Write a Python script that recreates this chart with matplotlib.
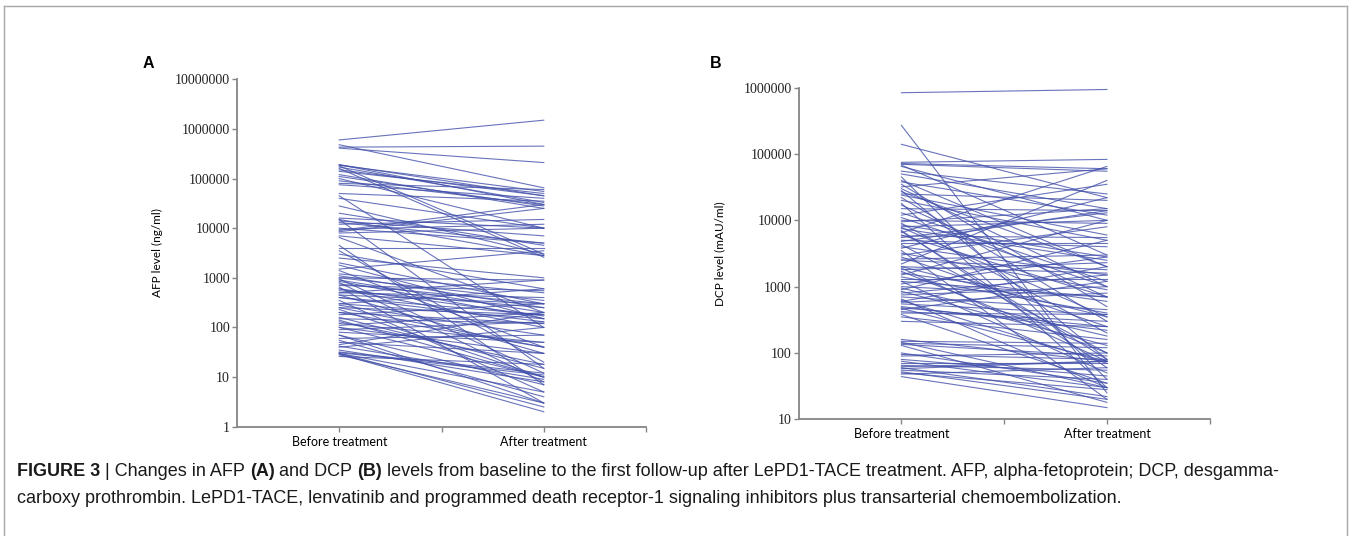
import numpy as np
import matplotlib
matplotlib.use("Agg")
import matplotlib.pyplot as plt
from matplotlib.lines import Line2D
from matplotlib.ticker import FixedLocator, FuncFormatter

# AFP (ng/ml), before / after treatment, one pair per patient
afp_before = [6.0e5, 4.8e5, 4.3e5, 4.1e5, 1.9e5, 1.8e5, 1.7e5, 1.6e5, 1.4e5, 1.2e5,
              1.0e5, 9.0e4, 7.5e4, 5.0e4, 4.5e4, 2.8e4, 1.6e4, 1.5e4, 1.4e4, 1.2e4,
              1.0e4, 9.0e3, 8.0e3, 7.0e3, 6.5e3, 4.5e3, 4.0e3, 3.5e3, 3.0e3, 2.5e3,
              2.0e3, 1.8e3, 1.5e3, 1.4e3, 1.0e3, 950, 900, 800, 750, 700,
              650, 600, 550, 500, 450, 400, 350, 300, 280, 250,
              230, 200, 180, 150, 130, 120, 110, 100, 90, 70,
              60, 50, 45, 40, 35, 32, 30, 29, 28, 26,
              1.9e5, 1.85e5, 1.5e5, 1.1e5, 8.0e4, 4.0e4, 2.0e4, 1.5e4, 1.3e4, 9.5e3,
              8.5e3, 1.2e3, 1.1e3, 1.0e3, 850, 600, 500, 450, 400, 300,
              250, 200, 160, 140, 100, 80, 70, 55, 42, 31, 30]
afp_after = [1.5e6, 6.5e4, 4.5e5, 2.1e5, 4.5e4, 3.0e3, 3.3e4, 2.6e3, 5.0e4, 2.5e4,
             1.0e4, 3.0e4, 4.0e4, 3.5e4, 100, 3.0e3, 1.0e4, 15, 7.0e3, 1.5e4,
             5.0e3, 3.0e4, 1.0e4, 2.8e3, 200, 7, 4.0e3, 20, 600, 1.0e3,
             300, 150, 3.5e3, 40, 900, 12, 200, 8, 300, 550,
             3, 100, 250, 400, 30, 180, 5, 150, 70, 180,
             10, 40, 300, 120, 18, 50, 200, 10, 130, 3,
             70, 30, 200, 100, 8, 12, 5, 2, 3, 18,
             3.0e4, 5.5e4, 4.5e4, 2.8e4, 6.0e4, 1.0e4, 4.5e3, 2.8e3, 5.0e3, 1.2e4,
             2.5e4, 500, 250, 350, 150, 170, 900, 300, 130, 600,
             40, 120, 15, 10, 30, 50, 7, 4, 9, 11, 2.5]

# DCP (mAU/ml), before / after treatment
dcp_before = [8.4e5, 2.7e5, 1.4e5, 7.5e4, 7.2e4, 7.0e4, 6.8e4, 6.5e4, 5.0e4, 4.5e4,
              4.0e4, 3.5e4, 3.2e4, 3.0e4, 2.8e4, 2.5e4, 2.2e4, 2.0e4, 1.8e4, 1.5e4,
              1.3e4, 1.2e4, 1.0e4, 9.0e3, 8.0e3, 7.5e3, 7.0e3, 6.5e3, 6.0e3, 5.5e3,
              5.0e3, 4.5e3, 4.3e3, 4.0e3, 3.8e3, 3.5e3, 3.2e3, 3.0e3, 2.8e3, 2.5e3,
              2.2e3, 2.0e3, 2.0e3, 1.9e3, 1.8e3, 1.6e3, 1.5e3, 1.4e3, 1.3e3, 1.2e3,
              1.1e3, 1.0e3, 950, 900, 850, 800, 700, 650, 600, 580,
              550, 500, 470, 450, 420, 400, 380, 300, 160, 150,
              140, 135, 130, 95, 90, 80, 75, 70, 65, 60,
              58, 55, 50, 48, 44,
              5.5e4, 3.8e4, 2.7e4, 2.4e4, 1.7e4, 1.1e4, 9.5e3, 8.5e3, 7.8e3, 6.8e3,
              5.8e3, 4.8e3, 2.6e3, 1.7e3, 1.2e3, 750, 620, 480, 350, 145,
              100, 62, 52]
dcp_after = [9.4e5, 25, 2.2e4, 8.3e4, 6.0e4, 5.5e4, 3.0e3, 1.0e4, 1.5e4, 40,
             2.0e3, 500, 6.0e4, 1.0e3, 80, 2.0e4, 300, 5.0e3, 30, 1.4e4,
             1.2e3, 3.5e4, 9.0e3, 200, 1.0e4, 2.5e3, 60, 6.5e4, 700, 1.3e4,
             4.0e3, 4.5e3, 100, 1.5e3, 2.2e4, 20, 900, 8.0e3, 250, 1.8e3,
             4.0e4, 350, 1.6e3, 75, 2.3e3, 600, 1.0e4, 400, 1.3e3, 50,
             2.8e3, 700, 180, 5.0e3, 130, 1.5e3, 450, 30, 2.0e3, 800,
             380, 220, 75, 1.2e3, 300, 380, 35, 250, 75, 140,
             120, 90, 18, 80, 100, 45, 30, 70, 55, 22,
             75, 40, 28, 60, 15,
             2.5e4, 1.2e4, 2.0e3, 6.0e3, 700, 1.0e3, 1.5e4, 2.8e3, 350, 80,
             5.5e3, 1.4e4, 3.0e3, 100, 700, 1.0e3, 70, 250, 160, 30,
             35, 75, 20]

groups = ["Before treatment", "After treatment"]

line_color = "#4250aa"
axis_color = "#858585"
tick_font = "Liberation Serif"
label_font = "Lato"

fig = plt.figure(figsize=(13.52, 5.36), dpi=100)


def paired_panel(rect, before, after, ylim, ylabel, label_x):
    ax = fig.add_axes(rect)
    ax.plot([0, 1], np.vstack([before, after]), color=line_color, lw=0.8, alpha=0.8)
    ax.set_yscale("log")
    ax.set_ylim(*ylim)
    ax.set_xlim(-0.5, 1.5)
    decades = 10.0 ** np.arange(np.log10(ylim[0]), np.log10(ylim[1]) + 1)
    ax.yaxis.set_major_locator(FixedLocator(decades))
    ax.yaxis.set_major_formatter(FuncFormatter(lambda v, p: "%d" % round(v)))
    ax.yaxis.set_minor_locator(FixedLocator([]))
    ax.set_xticks([0, 0.5, 1, 1.5])
    ax.set_xticklabels([groups[0], "", groups[1], ""])
    for s in ["top", "right"]:
        ax.spines[s].set_visible(False)
    for s in ["left", "bottom"]:
        ax.spines[s].set_color(axis_color)
        ax.spines[s].set_linewidth(1.3)
    ax.tick_params(axis="both", colors=axis_color, length=3.5, width=1.0, direction="out")
    ax.tick_params(axis="y", pad=1.5, labelcolor="#222222")
    ax.tick_params(axis="x", pad=3, labelcolor="black")
    for t in ax.get_yticklabels():
        t.set_fontfamily(tick_font)
        t.set_fontsize(10)
    for t in ax.get_xticklabels():
        t.set_fontfamily(label_font)
        t.set_fontsize(9)
    ax.set_ylabel(ylabel, fontfamily=label_font, fontsize=8.5)
    ax.yaxis.set_label_coords(label_x, 0.5)
    ax.patch.set_visible(False)
    return ax


ax_a = paired_panel([237 / 1352, 109.3 / 536, 409 / 1352, 347.4 / 536],
                    afp_before, afp_after, (1, 1e7), "AFP level (ng/ml)", -0.181)
ax_b = paired_panel([798.7 / 1352, 116.7 / 536, 411 / 1352, 331.6 / 536],
                    dcp_before, dcp_after, (10, 1e6), "DCP level (mAU/ml)", -0.179)

fig.text(143 / 1352, 1 - 56 / 536, "A", fontfamily="Liberation Sans", fontweight="bold",
         fontsize=11.5, va="top", ha="left")
fig.text(710 / 1352, 1 - 56 / 536, "B", fontfamily="Liberation Sans", fontweight="bold",
         fontsize=11.5, va="top", ha="left")

# frame around the figure
for xs, ys in [([4, 4], [536, 6]), ([4, 1347], [6, 6]), ([1347, 1347], [6, 536])]:
    fig.add_artist(Line2D([x / 1352 for x in xs], [1 - y / 536 for y in ys],
                          transform=fig.transFigure, color="#a6a6a6", lw=1.0))

# caption with bold parts, pieced together
caption = [
    [("FIGURE 3", "bold"), (" | Changes in AFP ", "normal"), ("(A)", "bold"),
     (" and DCP ", "normal"), ("(B)", "bold"),
     (" levels from baseline to the first follow-up after LePD1-TACE treatment. "
      "AFP, alpha-fetoprotein; DCP, desgamma-", "normal")],
    [("carboxy prothrombin. LePD1-TACE, lenvatinib and programmed death receptor-1 "
      "signaling inhibitors plus transarterial chemoembolization.", "normal")],
]
baselines = [476, 503]
renderer = fig.canvas.get_renderer()
for line, yb in zip(caption, baselines):
    x = 17
    for txt, weight in line:
        t = fig.text(x / 1352, 1 - yb / 536, txt, fontfamily="Liberation Sans",
                     fontweight=weight, fontsize=13, va="baseline", ha="left",
                     color="#1a1a1a")
        bb = t.get_window_extent(renderer=renderer)
        x += bb.width

fig.savefig("out.png", dpi=100)
